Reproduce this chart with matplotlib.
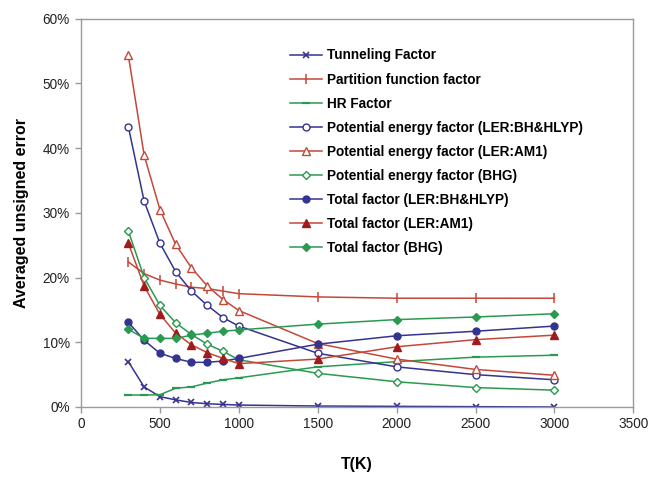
import matplotlib
matplotlib.use("Agg")
import matplotlib.pyplot as plt
from matplotlib.ticker import FuncFormatter

plt.rcParams['font.family'] = ['Liberation Sans', 'DejaVu Sans']

T = [300, 400, 500, 600, 700, 800, 900, 1000, 1500, 2000, 2500, 3000]
tunneling = [7.0, 3.1, 1.6, 1.1, 0.7, 0.5, 0.4, 0.3, 0.15, 0.1, 0.05, 0.0]
partition = [22.4, 20.6, 19.6, 19.0, 18.5, 18.3, 17.9, 17.5, 17.0, 16.8, 16.8, 16.8]
hr = [1.85, 1.85, 1.9, 2.9, 3.1, 3.7, 4.2, 4.5, 6.2, 7.0, 7.7, 8.0]
pe_bh = [43.3, 31.8, 25.3, 20.9, 17.9, 15.7, 13.8, 12.5, 8.3, 6.2, 5.0, 4.2]
pe_am1 = [54.3, 38.9, 30.5, 25.1, 21.5, 18.7, 16.6, 14.9, 9.8, 7.4, 5.8, 4.9]
pe_bhg = [27.2, 20.0, 15.7, 13.0, 11.2, 9.7, 8.6, 7.3, 5.2, 3.9, 3.0, 2.6]
tot_bh = [13.1, 10.3, 8.3, 7.5, 6.9, 6.9, 7.1, 7.5, 9.7, 11.0, 11.7, 12.5]
tot_am1 = [25.3, 18.7, 14.3, 11.4, 9.6, 8.4, 7.5, 6.7, 7.4, 9.3, 10.4, 11.1]
tot_bhg = [12.0, 10.6, 10.6, 10.6, 11.1, 11.4, 11.7, 11.9, 12.8, 13.5, 13.9, 14.4]

labels = ["Tunneling Factor", "Partition function factor", "HR Factor",
          "Potential energy factor (LER:BH&HLYP)", "Potential energy factor (LER:AM1)",
          "Potential energy factor (BHG)", "Total factor (LER:BH&HLYP)",
          "Total factor (LER:AM1)", "Total factor (BHG)"]

BLUE = '#34338f'
RED = '#c4483a'
DRED = '#a01c1c'
GREEN = '#2a9a50'

fig = plt.figure(figsize=(6.52, 4.78), dpi=100)
ax = fig.add_axes([81/652, 1-407/478, (633.3-81)/652, (407-18.5)/478])

lw = 1.1
ms = 5
ax.plot(T, tunneling, color=BLUE, lw=lw, marker='x', ms=ms, mew=1.2, label=labels[0])
ax.plot(T, partition, color=RED, lw=lw, marker='|', ms=7, mew=1.1, label=labels[1])
ax.plot(T, hr, color=GREEN, lw=lw, marker='_', ms=6, mew=1.6, label=labels[2])
ax.plot(T, pe_bh, color=BLUE, lw=lw, marker='o', ms=ms, mfc='white', mew=1.0, label=labels[3])
ax.plot(T, pe_am1, color=RED, lw=lw, marker='^', ms=ms+0.5, mfc='white', mew=1.0, label=labels[4])
ax.plot(T, pe_bhg, color=GREEN, lw=lw, marker='D', ms=4, mfc='white', mew=1.0, label=labels[5])
ax.plot(T, tot_bh, color=BLUE, lw=lw, marker='o', ms=ms, mfc=BLUE, mec=BLUE, label=labels[6])
ax.plot(T, tot_am1, color=RED, lw=lw, marker='^', ms=ms+1, mfc=DRED, mec=DRED, label=labels[7])
ax.plot(T, tot_bhg, color=GREEN, lw=lw, marker='D', ms=4.5, mfc=GREEN, mec=GREEN, label=labels[8])

ax.set_xlim(0, 3500)
ax.set_ylim(0, 60)
ax.set_xticks(range(0, 3501, 500))
ax.set_yticks(range(0, 61, 10))
ax.yaxis.set_major_formatter(FuncFormatter(lambda v, p: f"{int(v)}%"))
for s in ax.spines.values():
    s.set_color('#9a9a9a')
    s.set_linewidth(1.0)
ax.tick_params(axis='both', direction='out', length=4, width=1.0, color='#9a9a9a',
               labelsize=9.8, labelcolor='#222222', pad=4)
ax.tick_params(axis='x', pad=3)

ax.set_xlabel("T(K)", fontsize=11.5, fontweight='bold', labelpad=19)
ax.set_ylabel("Averaged unsigned error", fontsize=11.5, fontweight='bold', labelpad=10)

leg = fig.legend(loc='upper left', bbox_to_anchor=(290/652, 1-48.5/478), frameon=False,
                 fontsize=9.8, handlelength=2.35, handletextpad=0.35, labelspacing=0.74,
                 borderpad=0, borderaxespad=0)
for t in leg.get_texts():
    t.set_fontweight('bold')

fig.savefig("out.png", dpi=100)
